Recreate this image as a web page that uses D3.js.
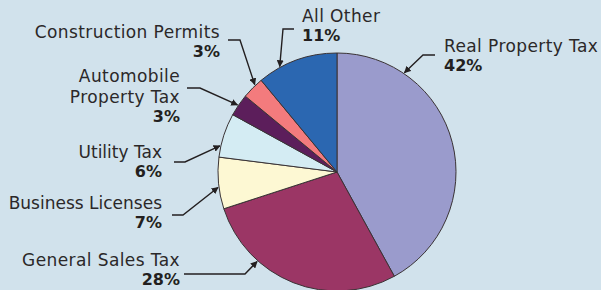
<!DOCTYPE html>
<html lang="en">
<head>
<meta charset="utf-8">
<title>Revenue pie</title>
<script src="https://d3js.org/d3.v7.min.js"></script>
<style>
  body { margin: 0; background: #d1e2ec; }
  text { font-family: "DejaVu Sans", sans-serif; fill: #231f20; }
  .name { font-size: 17px; letter-spacing: 0.4px; fill: #2b2829; }
  .name.tight { letter-spacing: 0; }
  .pct { font-size: 16px; font-weight: bold; }
</style>
</head>
<body>
<div id="chart"></div>
<script>
// data
var categories = ["Real Property Tax", "General Sales Tax", "Business Licenses", "Utility Tax",
                  "Automobile Property Tax", "Construction Permits", "All Other"];
var values = [42, 28, 7, 6, 3, 3, 11];
var colors = ["#9a9bcc", "#9b3665", "#fdf8d3", "#d4ecf3", "#5c1e5b", "#f37b7d", "#2b67b1"];

// label layout: text lines, anchor, text pos, leader elbow, where on slice arrow hits (0..1)
var labelLayout = [
  {lines: ["Real Property Tax"], anchor: "start", x: 444, y: 52, elbow: [[435, 55], [423, 55]], f: 0.226},
  {lines: ["General Sales Tax"], anchor: "end", x: 180, y: 266, elbow: [[184, 274], [245, 274]], f: 0.70},
  {lines: ["Business Licenses"], anchor: "end", x: 162, y: 209, elbow: [[172, 215], [183, 215]], f: 0.42, tight: true},
  {lines: ["Utility Tax"], anchor: "end", x: 162, y: 158, elbow: [[174, 162], [185, 162]], f: 0.25, tight: true},
  {lines: ["Automobile", "Property Tax"], anchor: "end", x: 180, y: 82, elbow: [[187, 88], [200, 88]], f: 0.48},
  {lines: ["Construction Permits"], anchor: "end", x: 220, y: 38, elbow: [[228, 40], [240, 40]], f: 0.66},
  {lines: ["All Other"], anchor: "start", x: 302, y: 22, elbow: [[294, 29], [283, 29]], f: 0.28}
];

var w = 601, h = 290;
var cx = 337, cy = 172, r = 119;

var svg = d3.select("#chart").append("svg")
    .attr("width", w)
    .attr("height", h);

svg.append("defs").append("marker")
    .attr("id", "arrow")
    .attr("viewBox", "0 0 10 10")
    .attr("refX", 9).attr("refY", 5)
    .attr("markerWidth", 7).attr("markerHeight", 7)
    .attr("markerUnits", "userSpaceOnUse")
    .attr("orient", "auto")
  .append("path")
    .attr("d", "M0,0L10,5L0,10z")
    .attr("fill", "#231f20");

var pie = d3.pie().sort(null).value(function(d) { return d; });
var arcs = pie(values);
var arc = d3.arc().innerRadius(0).outerRadius(r);

var g = svg.append("g").attr("transform", "translate(" + cx + "," + cy + ")");

g.selectAll("path")
    .data(arcs)
    .enter().append("path")
    .attr("d", arc)
    .attr("fill", function(d, i) { return colors[i]; })
    .attr("stroke", "#3a3335")
    .attr("stroke-width", 1);

// labels + leaders
arcs.forEach(function(a, i) {
  var L = labelLayout[i];
  var ang = a.startAngle + (a.endAngle - a.startAngle) * L.f;
  var tip = [cx + Math.sin(ang) * (r + 1), cy - Math.cos(ang) * (r + 1)];
  var pts = L.elbow.concat([tip]);

  svg.append("path")
      .attr("d", d3.line()(pts))
      .attr("fill", "none")
      .attr("stroke", "#231f20")
      .attr("stroke-width", 1.4)
      .attr("marker-end", "url(#arrow)");

  var lineH = 21;
  L.lines.forEach(function(t, k) {
    svg.append("text")
        .attr("class", L.tight ? "name tight" : "name")
        .attr("x", L.x)
        .attr("y", L.y + k * lineH)
        .attr("text-anchor", L.anchor)
        .text(t);
  });
  svg.append("text")
      .attr("class", "pct")
      .attr("x", L.x)
      .attr("y", L.y + L.lines.length * lineH - 2)
      .attr("text-anchor", L.anchor)
      .text(values[i] + "%");
});
</script>
</body>
</html>
